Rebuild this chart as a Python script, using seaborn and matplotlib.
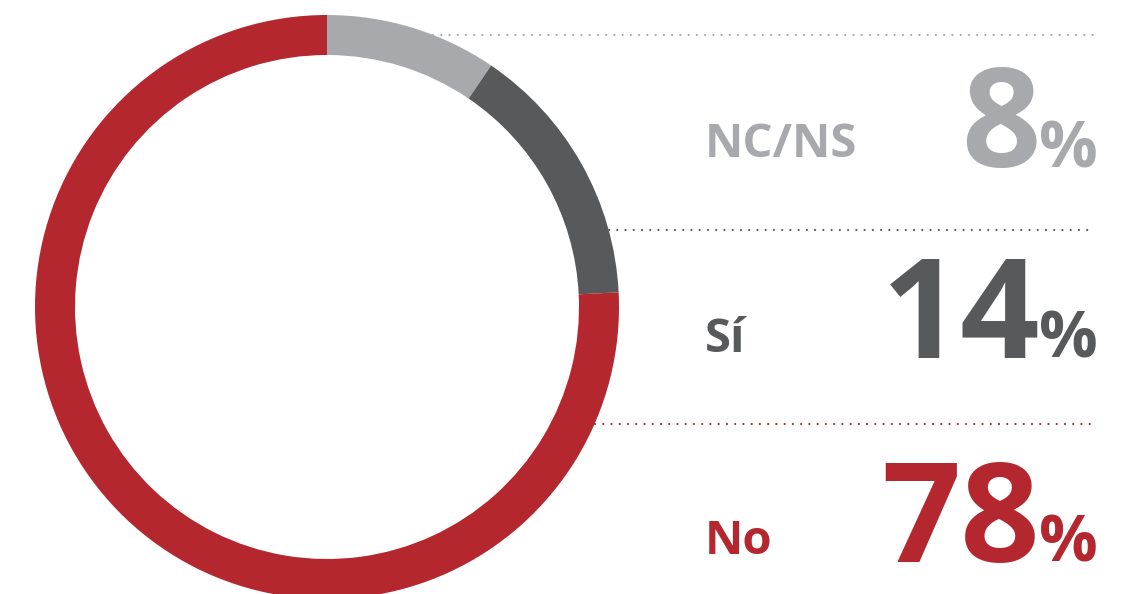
import matplotlib
matplotlib.use("Agg")
import matplotlib.pyplot as plt
import numpy as np
import seaborn as sns

# answers, top of the ring going clockwise
labels = ["NC/NS", "Sí", "No"]
pct = [8, 14, 78]
# share of the ring as drawn in the original graphic
ring_share = [9.5, 14.7, 75.8]
colors = ["#a7a9ac", "#58595b", "#b5272f"]

sns.set_style("white")
plt.rcParams["font.family"] = ["Open Sans", "DejaVu Sans"]

W, H = 1128, 594
fig = plt.figure(figsize=(W / 100, H / 100), dpi=100)
ax = fig.add_axes([0, 0, 1, 1])

cx, cy, R = 327, H - 307, 292
ax.pie(ring_share, colors=sns.color_palette(colors), startangle=90, counterclock=False,
       center=(cx, cy), radius=R, wedgeprops=dict(width=40, linewidth=0),
       frame=True)
ax.set_xlim(0, W)
ax.set_ylim(0, H)
ax.set_aspect("equal")
ax.axis("off")

# rows: dotted rule, label, big number
rule_y = [35, 230, 424]
label_y = [157, 352, 554]
num_y = [167, 358, 562]
for lab, p, col, ry, ly, ny in zip(labels, pct, colors, rule_y, label_y, num_y):
    yy = H - ry
    x0 = cx + np.sqrt(R ** 2 - (yy - cy) ** 2)
    ax.plot([x0, 1093], [yy, yy], color=col, lw=1.6, ls=(0, (0.01, 3.7)),
            dash_capstyle="round", zorder=0)
    ax.text(705, H - ly, lab, color=col, fontsize=34, fontweight="bold",
            ha="left", va="baseline")
    ax.text(1040, H - ny, str(p), color=col, fontsize=100, fontweight="bold",
            ha="right", va="baseline")
    ax.text(1098, H - ny, "%", color=col, fontsize=47, fontweight="bold",
            ha="right", va="baseline")

fig.savefig("out.png", dpi=100, facecolor="white")
